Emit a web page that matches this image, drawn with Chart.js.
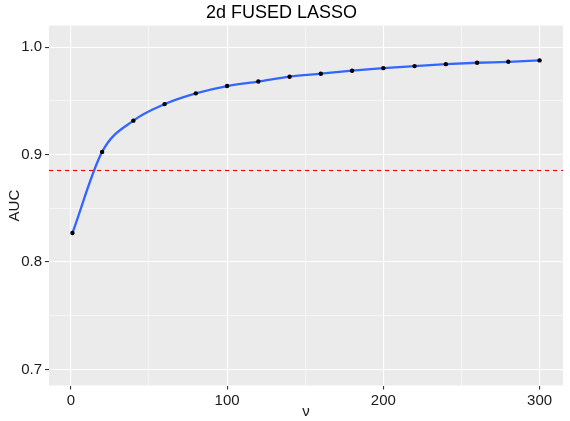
<!DOCTYPE html>
<html>
<head>
<meta charset="utf-8">
<script src="https://cdn.jsdelivr.net/npm/chart.js@4.4.1/dist/chart.umd.min.js"></script>
<style>
  html, body { margin: 0; padding: 0; background: #ffffff; }
  #wrap { width: 570px; height: 421px; }
</style>
</head>
<body>
<div id="wrap"><canvas id="grafico"></canvas></div>
<script>
// --- datos ---
const nuValues = [1, 20, 40, 60, 80, 100, 120, 140, 160, 180, 200, 220, 240, 260, 280, 300];
const aucValues = [0.827, 0.9025, 0.9316, 0.947, 0.957, 0.9638, 0.968, 0.9725, 0.9753, 0.9781, 0.9805, 0.9824, 0.9842, 0.9855, 0.9864, 0.9877];
const umbralAuc = 0.886;
const xTicks = [0, 50, 100, 150, 200, 250, 300];
const xTickLabels = ['0', '', '100', '', '200', '', '300'];
const yTicks = [0.7, 0.75, 0.8, 0.85, 0.9, 0.95, 1.0];
const yTickLabels = ['0.7', '', '0.8', '', '0.9', '', '1.0'];

const puntos = nuValues.map((v, i) => ({ x: v, y: aucValues[i] }));

const FUENTE = "'Liberation Sans', Arial, sans-serif";
const TEXTO = '#1a1a1a';

// fondo gris del panel y línea de umbral
const panelPlugin = {
    id: 'panel',
    beforeDraw(chart) {
        const { ctx, chartArea: a } = chart;
        ctx.save();
        ctx.fillStyle = '#EBEBEB';
        ctx.fillRect(a.left, a.top, a.right - a.left, a.bottom - a.top);
        ctx.restore();
    },
    afterDatasetsDraw(chart) {
        const { ctx, chartArea: a, scales } = chart;
        const y = Math.round(scales.y.getPixelForValue(umbralAuc)) + 0.5;
        ctx.save();
        ctx.beginPath();
        ctx.rect(a.left, a.top, a.right - a.left, a.bottom - a.top);
        ctx.clip();
        ctx.strokeStyle = '#FF0000';
        ctx.lineWidth = 1.2;
        ctx.setLineDash([4, 4]);
        ctx.beginPath();
        ctx.moveTo(a.left, y);
        ctx.lineTo(a.right, y);
        ctx.stroke();
        ctx.restore();
    }
};

function fijarTicks(valores) {
    return function(scale) {
        scale.ticks = valores.map(v => ({ value: v }));
    };
}

function esMayor(lista, etiquetas) {
    return function(ctx) {
        const i = lista.indexOf(ctx.tick ? ctx.tick.value : NaN);
        return i >= 0 && etiquetas[i] !== '';
    };
}

const xMayor = esMayor(xTicks, xTickLabels);
const yMayor = esMayor(yTicks, yTickLabels);

new Chart(document.getElementById('grafico'), {
    type: 'scatter',
    data: {
        datasets: [
            {
                data: puntos,
                showLine: false,
                pointRadius: 2.2,
                pointBackgroundColor: '#000000',
                pointBorderWidth: 0,
                order: 0
            },
            {
                data: puntos,
                showLine: true,
                borderColor: '#3366FF',
                borderWidth: 2.3,
                pointRadius: 0,
                cubicInterpolationMode: 'monotone',
                order: 1
            }
        ]
    },
    options: {
        responsive: true,
        maintainAspectRatio: false,
        animation: false,
        layout: { padding: { left: 0, right: 7, top: 0, bottom: 0 } },
        plugins: {
            legend: { display: false },
            tooltip: { enabled: false },
            title: {
                display: true,
                text: '2d FUSED LASSO',
                color: '#000000',
                font: { family: FUENTE, size: 18, weight: 'normal' },
                padding: { top: 2, bottom: 2 },
                align: 'center'
            }
        },
        scales: {
            x: {
                type: 'linear',
                min: -14,
                max: 315,
                afterBuildTicks: fijarTicks(xTicks),
                afterFit(scale) { scale.height = 35.5; },
                border: { display: false },
                grid: {
                    color: '#FFFFFF',
                    lineWidth: ctx => xMayor(ctx) ? 1.1 : 0.55,
                    tickColor: ctx => xMayor(ctx) ? '#333333' : 'rgba(0,0,0,0)',
                    tickLength: 4,
                    drawTicks: true
                },
                ticks: {
                    color: TEXTO,
                    font: { family: FUENTE, size: 15 },
                    padding: 2,
                    maxRotation: 0,
                    autoSkip: false,
                    callback: (v) => xTickLabels[xTicks.indexOf(v)] ?? ''
                },
                title: {
                    display: true,
                    text: 'ν',
                    color: TEXTO,
                    font: { family: FUENTE, size: 15 },
                    padding: { top: 0, bottom: 0 }
                }
            },
            y: {
                type: 'linear',
                min: 0.685,
                max: 1.0201,
                afterBuildTicks: fijarTicks(yTicks),
                afterFit(scale) { scale.width = 49; },
                border: { display: false },
                grid: {
                    color: '#FFFFFF',
                    lineWidth: ctx => yMayor(ctx) ? 1.1 : 0.55,
                    tickColor: ctx => yMayor(ctx) ? '#333333' : 'rgba(0,0,0,0)',
                    tickLength: 4,
                    drawTicks: true
                },
                ticks: {
                    color: TEXTO,
                    font: { family: FUENTE, size: 15 },
                    padding: 3,
                    autoSkip: false,
                    callback: (v) => yTickLabels[yTicks.indexOf(v)] ?? ''
                },
                title: {
                    display: true,
                    text: 'AUC',
                    color: TEXTO,
                    font: { family: FUENTE, size: 15 },
                    padding: { top: 6, bottom: 0 }
                }
            }
        }
    },
    plugins: [panelPlugin]
});
</script>
</body>
</html>
